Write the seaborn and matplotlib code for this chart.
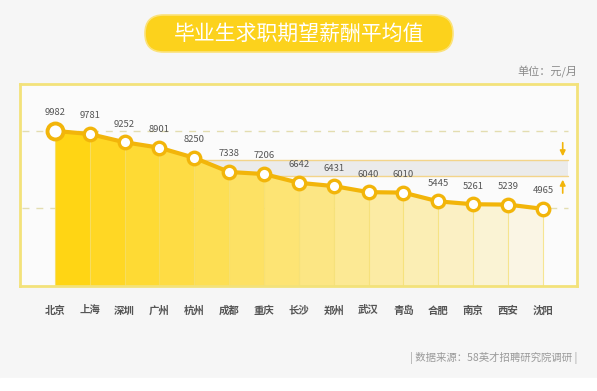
import numpy as np
import pandas as pd
import matplotlib
matplotlib.use('Agg')
import matplotlib.pyplot as plt
import matplotlib.colors as mcolors
from matplotlib.patches import FancyBboxPatch, Rectangle
import seaborn as sns

# -------------------------
# Data
# -------------------------
cities = ["北京", "上海", "深圳", "广州", "杭州", "成都", "重庆", "长沙",
          "郑州", "武汉", "青岛", "合肥", "南京", "西安", "沈阳"]
salaries = [9982, 9781, 9252, 8901, 8250, 7338, 7206, 6642,
            6431, 6040, 6010, 5445, 5261, 5239, 4965]
ref_lines = [10000, 5000]
band_range = [7080, 8110]

title = "毕业生求职期望薪酬平均值"
unit_text = "单位：元/月"
source_text = "| 数据来源：58英才招聘研究院调研 |"

# -------------------------
# Style
# -------------------------
sns.set_theme(style="white")
plt.rcParams['font.family'] = ['Noto Sans CJK SC', 'DejaVu Sans']

LINE = "#F2B50A"
FRAME = "#F3E27A"
W, H = 597, 391

fig = plt.figure(figsize=(W / 100, H / 100), dpi=100)
fig.patch.set_facecolor("#f6f6f6")

# background axes in pixel coordinates
bg = fig.add_axes([0, 0, 1, 1])
bg.set_xlim(0, W)
bg.set_ylim(H, 0)
bg.axis("off")
bg.add_patch(Rectangle((0, 378), W, H - 378, color="white", zorder=0))

# title pill
pill = FancyBboxPatch((145, 15), 308, 37, boxstyle="round,pad=0,rounding_size=18.5",
                      facecolor="#FCD21C", edgecolor="#FBE27A", lw=1.2)
bg.add_patch(pill)
bg.text(299, 34, title, color="white", fontsize=15, fontweight="medium",
        ha="center", va="center")
bg.text(577, 72, unit_text, color="#8a8a8a", fontsize=8, ha="right", va="center")
bg.text(577, 358, source_text, color="#9a9a9a", fontsize=7.5, ha="right", va="center")

# chart axes (frame = spines)
ax = fig.add_axes([20 / W, 1 - 286 / H, 557 / W, 202 / H])
ax.set_facecolor("#fbfbfb")
pos = np.arange(len(cities))
ax.set_xlim(-1.0, 14.98)
ax.set_ylim(0, 13000)

# gradient area under the line, one strip per segment
c_start = np.array(mcolors.to_rgb("#FFD514"))
c_end = np.array(mcolors.to_rgb("#FAF5E4"))
nseg = len(pos) - 1
for i in range(nseg):
    t = i / (nseg - 1)
    col = c_start * (1 - t) + c_end * t
    ax.fill_between(pos[i:i + 2], salaries[i:i + 2], 0, color=col, lw=0, zorder=1)
for i, v in enumerate(salaries):
    ax.plot([pos[i], pos[i]], [0, v], color="#F5DE6A", lw=0.8, alpha=0.7, zorder=1.5)

# reference dashed lines
for r in ref_lines:
    ax.plot([-0.95, 14.72], [r, r], color="#E3DDB0", lw=1, ls=(0, (5, 5)), zorder=0.8)

# grey band with arrows
ax.fill_between([4.16, 14.72], band_range[0], band_range[1], color="#ebebeb", zorder=0.5, lw=0)
for b in band_range:
    ax.plot([4.16, 14.72], [b, b], color="#F3D48A", lw=1, zorder=0.6)
ax.annotate("", xy=(14.57, band_range[1] + 60), xytext=(14.57, 9400),
            arrowprops=dict(arrowstyle="-|>", color=LINE, lw=1.2, mutation_scale=8))
ax.annotate("", xy=(14.57, band_range[0] - 60), xytext=(14.57, 5800),
            arrowprops=dict(arrowstyle="-|>", color=LINE, lw=1.2, mutation_scale=8))

# line with markers
df = pd.DataFrame({"pos": pos, "salary": salaries})
sns.lineplot(data=df, x="pos", y="salary", ax=ax, color=LINE, lw=3, zorder=3,
             marker="o", markersize=9, markerfacecolor="white",
             markeredgecolor=LINE, markeredgewidth=2.4)
ax.plot(pos[0], salaries[0], "o", ms=11.5, mfc="white", mec=LINE, mew=2.8, zorder=4)

for x, v in zip(pos, salaries):
    ax.annotate(f"{v}", (x, v), xytext=(0, 13), textcoords="offset points",
                ha="center", va="center", fontsize=6.8, color="#555555", zorder=5)

ax.set_xticks(pos, cities)
ax.set_yticks([])
ax.tick_params(axis="x", length=0, pad=14, labelsize=7.5, labelcolor="#555555")
for lab in ax.get_xticklabels():
    lab.set_fontweight("bold")
ax.set_xlabel("")
ax.set_ylabel("")
for s in ax.spines.values():
    s.set_color(FRAME)
    s.set_linewidth(2)

fig.savefig("out.png", dpi=100, facecolor=fig.get_facecolor())
